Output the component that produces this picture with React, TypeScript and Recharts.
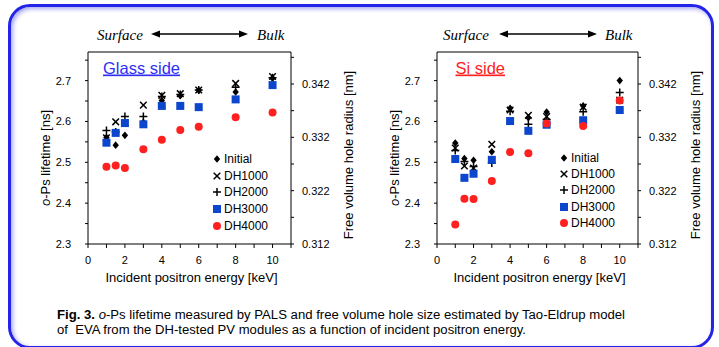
import { ScatterChart, Scatter, XAxis, YAxis, Label, Legend, ReferenceLine } from 'recharts'

const FONT = 'Arial, "Liberation Sans", sans-serif'
const SERIF = '"Times New Roman", "Liberation Serif", serif'
const BLUE = '#0b46cc'
const RED = '#ff2020'

// incident positron energy [keV]
const energies = [1, 1.5, 2, 3, 4, 5, 6, 8, 10]

// o-Ps lifetime [ns], glass side
const glassInitial = [2.561, 2.542, 2.566, 2.598, 2.651, 2.663, 2.676, 2.672, 2.706]
const glassDH1000 = [2.56, 2.599, 2.597, 2.64, 2.664, 2.668, 2.677, 2.693, 2.71]
const glassDH2000 = [2.578, 2.574, 2.612, 2.612, 2.661, 2.666, 2.677, 2.684, 2.707]
const glassDH3000 = [2.548, 2.572, 2.596, 2.593, 2.638, 2.638, 2.635, 2.654, 2.689]
const glassDH4000 = [2.489, 2.492, 2.486, 2.532, 2.555, 2.579, 2.587, 2.61, 2.622]

// o-Ps lifetime [ns], Si side
const siInitial = [2.547, 2.509, 2.505, 2.526, 2.632, 2.609, 2.623, 2.638, 2.7]
const siDH1000 = [2.535, 2.491, 2.486, 2.544, 2.628, 2.615, 2.612, 2.635, 2.652]
const siDH2000 = [2.529, 2.502, 2.49, 2.498, 2.625, 2.593, 2.605, 2.624, 2.671]
const siDH3000 = [2.508, 2.462, 2.472, 2.506, 2.601, 2.577, 2.592, 2.603, 2.628]
const siDH4000 = [2.348, 2.411, 2.41, 2.454, 2.525, 2.522, 2.595, 2.589, 2.651]

const seriesNames = ['Initial', 'DH1000', 'DH2000', 'DH3000', 'DH4000']
const energyTicks = [0, 1, 2, 3, 4, 5, 6, 7, 8, 9, 10, 11]
const lifetimeTicks = [2.3, 2.35, 2.4, 2.45, 2.5, 2.55, 2.6, 2.65, 2.7, 2.75]
const radiusTicks = [0.312, 0.317, 0.322, 0.327, 0.332, 0.337, 0.342, 0.347]

type Kind = 'diamond' | 'cross' | 'plus' | 'square' | 'circle'
const kinds: Kind[] = ['diamond', 'cross', 'plus', 'square', 'circle']

function Marker({ kind, cx, cy }: { kind: Kind; cx: number; cy: number }) {
  if (kind === 'diamond')
    return <polygon points={`${cx},${cy - 3.8} ${cx + 3.2},${cy} ${cx},${cy + 3.8} ${cx - 3.2},${cy}`} fill="#000" />
  if (kind === 'cross')
    return (
      <path
        d={`M${cx - 3.3},${cy - 3.3}L${cx + 3.3},${cy + 3.3}M${cx + 3.3},${cy - 3.3}L${cx - 3.3},${cy + 3.3}`}
        stroke="#000"
        strokeWidth={1.5}
      />
    )
  if (kind === 'plus')
    return <path d={`M${cx - 4},${cy}H${cx + 4}M${cx},${cy - 4}V${cy + 4}`} stroke="#000" strokeWidth={1.5} />
  if (kind === 'square') return <rect x={cx - 4} y={cy - 4} width={8} height={8} fill={BLUE} />
  return <circle cx={cx} cy={cy} r={4} fill={RED} />
}

const xFmt = (v: number) => (v % 2 === 0 && v <= 10 ? String(v) : '')
const lifeFmt = (v: number) => (Math.round(v * 100) % 10 === 0 ? v.toFixed(1) : '')
const radiusFmt = (v: number) => (Math.round(v * 1000) % 10 === 2 ? v.toFixed(3) : '')

const tickStyle = { fontSize: 11, fill: '#000', fontFamily: FONT }

interface PanelProps {
  series: number[][]
  width: number
  leftW: number
  rightW: number
  lifeTitleDx: number
  legendLeft: number
  legendTop: number
  rowH: number
}

function Panel({ series, width, leftW, rightW, lifeTitleDx, legendLeft, legendTop, rowH }: PanelProps) {
  const lifeTitle = (props: any) => {
    const { x, y, width: w, height: h } = props.viewBox
    const cx = x + w - lifeTitleDx
    const cy = y + h / 2 + 10
    return (
      <text x={cx} y={cy} transform={`rotate(-90 ${cx} ${cy})`} textAnchor="middle" dominantBaseline="central"
        fontSize={13} fontFamily={FONT} fill="#000">
        <tspan fontStyle="italic">o</tspan>-Ps lifetime [ns]
      </text>
    )
  }
  const radiusTitle = (props: any) => {
    const { x, y, height: h } = props.viewBox
    const cx = x + 57
    const cy = y + h / 2 + 7
    return (
      <text x={cx} y={cy} transform={`rotate(-90 ${cx} ${cy})`} textAnchor="middle" dominantBaseline="central"
        fontSize={13} fontFamily={FONT} fill="#000">
        Free volume hole radius [nm]
      </text>
    )
  }
  const energyTitle = (props: any) => {
    const { x, y, width: w } = props.viewBox
    return (
      <text x={x + w / 2 + 2} y={y + 33} textAnchor="middle" dominantBaseline="central" fontSize={13}
        fontFamily={FONT} fill="#000">
        Incident positron energy [keV]
      </text>
    )
  }
  const legend = () => (
    <div style={{ fontFamily: FONT, fontSize: 12, color: '#000' }}>
      {seriesNames.map((n, i) => (
        <div key={n} style={{ display: 'flex', alignItems: 'center', height: rowH }}>
          <svg width={12} height={12} style={{ display: 'block' }}>
            <Marker kind={kinds[i]} cx={6} cy={6} />
          </svg>
          <span style={{ marginLeft: 1 }}>{n}</span>
        </div>
      ))}
    </div>
  )

  return (
    <ScatterChart width={width} height={347} margin={{ top: 52, right: 0, bottom: 63, left: 0 }}>
      <XAxis type="number" dataKey="x" domain={[0, 11]} ticks={energyTicks} interval={0} tickFormatter={xFmt}
        tick={tickStyle} tickSize={4} tickMargin={8} height={40} stroke="#000" axisLine={{ stroke: '#000' }}>
        <Label content={energyTitle} />
      </XAxis>
      <YAxis yAxisId="l" type="number" dataKey="y" domain={[2.3, 2.77]} ticks={lifetimeTicks} interval={0}
        tickFormatter={lifeFmt} tick={tickStyle} tickSize={3} tickMargin={14} width={leftW} stroke="#000"
        allowDataOverflow>
        <Label content={lifeTitle} />
      </YAxis>
      <YAxis yAxisId="r" orientation="right" type="number" domain={[0.312, 0.348]} ticks={radiusTicks} interval={0}
        tickFormatter={radiusFmt} tick={tickStyle} tickSize={3} tickMargin={8} width={rightW} stroke="#000"
        allowDataOverflow>
        <Label content={radiusTitle} />
      </YAxis>
      <ReferenceLine yAxisId="l" y={2.77} stroke="#000" />
      {series.map((vals, i) => (
        <Scatter
          key={seriesNames[i]}
          name={seriesNames[i]}
          yAxisId="l"
          data={energies.map((x, j) => ({ x, y: vals[j] }))}
          isAnimationActive={false}
          shape={(p: any) => <Marker kind={kinds[i]} cx={p.cx} cy={p.cy} />}
        />
      ))}
      <Legend layout="vertical" align="center" verticalAlign="middle" content={legend}
        wrapperStyle={{ left: legendLeft, top: legendTop, width: 'auto' }} />
    </ScatterChart>
  )
}

function Arrow({ x1, x2, y }: { x1: number; x2: number; y: number }) {
  return (
    <g>
      <line x1={x1 + 6} x2={x2 - 6} y1={y} y2={y} stroke="#000" strokeWidth={1.3} />
      <polygon points={`${x1},${y} ${x1 + 9},${y - 3.5} ${x1 + 9},${y + 3.5}`} fill="#000" />
      <polygon points={`${x2},${y} ${x2 - 9},${y - 3.5} ${x2 - 9},${y + 3.5}`} fill="#000" />
    </g>
  )
}

export default function App() {
  return (
    <div style={{ position: 'relative', width: 719, height: 347, overflow: 'hidden', background: '#fff' }}>
      <style>{'body{margin:0}'}</style>
      <div
        style={{
          position: 'absolute', left: 8, top: 4, width: 706, height: 345, boxSizing: 'border-box',
          border: '3px solid #2424e8', borderRadius: 22, boxShadow: 'inset 2px 2px 4px #a8a8f4',
        }}
      />
      <div style={{ position: 'absolute', left: 0, top: 0 }}>
        <Panel series={[glassInitial, glassDH1000, glassDH2000, glassDH3000, glassDH4000]} width={360}
          leftW={88} rightW={69} lifeTitleDx={43} legendLeft={211} legendTop={151} rowH={16.6} />
      </div>
      <div style={{ position: 'absolute', left: 360, top: 0 }}>
        <Panel series={[siInitial, siDH1000, siDH2000, siDH3000, siDH4000]} width={350}
          leftW={77} rightW={72} lifeTitleDx={43} legendLeft={198} legendTop={150} rowH={16.2} />
      </div>
      <svg width={719} height={347} style={{ position: 'absolute', left: 0, top: 0, pointerEvents: 'none' }}>
        <g fontFamily={SERIF} fontStyle="italic" fontSize={15} fill="#000">
          <text x={97} y={40}>Surface</text>
          <text x={257} y={40}>Bulk</text>
          <text x={443} y={40}>Surface</text>
          <text x={605} y={40}>Bulk</text>
        </g>
        <Arrow x1={151} x2={248} y={34} />
        <Arrow x1={499} x2={597} y={34} />
        <text x={103} y={73.5} fontFamily={FONT} fontSize={16.5} fill="#2e2ef5" textDecoration="underline">
          Glass side
        </text>
        <text x={455.5} y={73.5} fontFamily={FONT} fontSize={16.5} fill="#ff2020" textDecoration="underline">
          Si side
        </text>
        <g fontFamily={FONT} fontSize={12} fill="#000">
          <text x={57} y={319} textLength={568} lengthAdjust="spacingAndGlyphs">
            <tspan fontWeight="bold">Fig. 3.</tspan> <tspan fontStyle="italic">o</tspan>-Ps lifetime measured by PALS
            and free volume hole size estimated by Tao-Eldrup model
          </text>
          <text x={57} y={334} textLength={469} lengthAdjust="spacingAndGlyphs">
            {'of\u00a0 EVA from the DH-tested PV modules as a function of incident positron energy.'}
          </text>
        </g>
      </svg>
    </div>
  )
}
